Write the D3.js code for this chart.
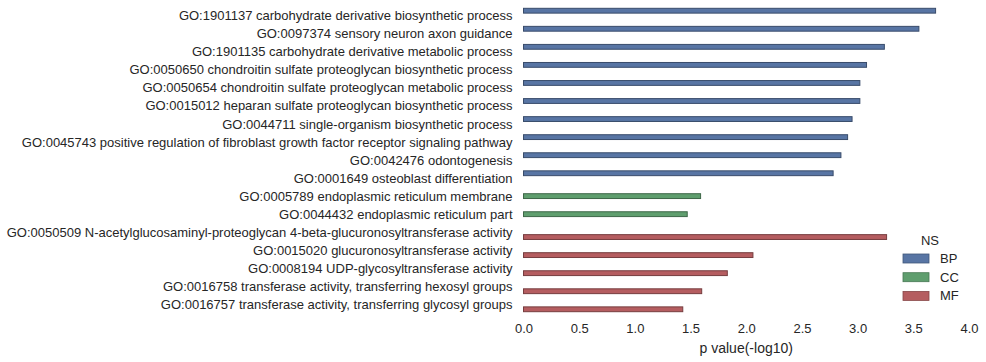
<!DOCTYPE html>
<html><head><meta charset="utf-8">
<script src="https://cdn.jsdelivr.net/npm/d3@7"></script>
<style>body{margin:0;background:#fff}svg{display:block}text{font-family:"Liberation Sans",Arial,sans-serif;fill:#262626}</style>
</head><body><svg id="c" width="986" height="362"></svg>
<script>
const categories = [
"GO:1901137 carbohydrate derivative biosynthetic process",
"GO:0097374 sensory neuron axon guidance",
"GO:1901135 carbohydrate derivative metabolic process",
"GO:0050650 chondroitin sulfate proteoglycan biosynthetic process",
"GO:0050654 chondroitin sulfate proteoglycan metabolic process",
"GO:0015012 heparan sulfate proteoglycan biosynthetic process",
"GO:0044711 single-organism biosynthetic process",
"GO:0045743 positive regulation of fibroblast growth factor receptor signaling pathway",
"GO:0042476 odontogenesis",
"GO:0001649 osteoblast differentiation",
"GO:0005789 endoplasmic reticulum membrane",
"GO:0044432 endoplasmic reticulum part",
"GO:0050509 N-acetylglucosaminyl-proteoglycan 4-beta-glucuronosyltransferase activity",
"GO:0015020 glucuronosyltransferase activity",
"GO:0008194 UDP-glycosyltransferase activity",
"GO:0016758 transferase activity, transferring hexosyl groups",
"GO:0016757 transferase activity, transferring glycosyl groups"];
const namespaces = ["BP","BP","BP","BP","BP","BP","BP","BP","BP","BP","CC","CC","MF","MF","MF","MF","MF"];
const values = [3.70,3.55,3.24,3.08,3.02,3.02,2.95,2.91,2.85,2.78,1.59,1.47,3.26,2.06,1.83,1.60,1.43];
const hues = ["BP","CC","MF"];
const hueColors = ["#5875A4","#5F9E6E","#B55D60"];
const xTicks = [0,0.5,1.0,1.5,2.0,2.5,3.0,3.5,4.0];

const svg = d3.select("#c");
const x = d3.scaleLinear().domain([0,4]).range([523.5,969]);
const y = d3.scaleBand().domain(categories).range([6.5,313.5]).paddingInner(0).paddingOuter(0);
const hueScale = d3.scaleBand().domain(hues).range([0.1*y.bandwidth(),0.9*y.bandwidth()]);
const color = d3.scaleOrdinal().domain(hues).range(hueColors);

svg.append("g").selectAll("rect").data(categories).join("rect")
  .attr("x", x(0))
  .attr("y", (d,i)=> y(d)+hueScale(namespaces[i]))
  .attr("width", (d,i)=> x(values[i])-x(0))
  .attr("height", hueScale.bandwidth())
  .attr("fill", (d,i)=> color(namespaces[i]))
  .attr("stroke", (d,i)=> d3.color(color(namespaces[i])).darker(1.2))
  .attr("stroke-width", 1);

const yAxis = d3.axisLeft(y).tickSize(0).tickPadding(11);
const gy = svg.append("g").attr("transform",`translate(${x(0)},0.5)`).call(yAxis);
gy.select(".domain").remove();
gy.selectAll("text").style("font-size","13px").attr("fill","#262626");

const xAxis = d3.axisBottom(x).tickValues(xTicks).tickFormat(d3.format(".1f")).tickSize(0).tickPadding(9);
const gx = svg.append("g").attr("transform","translate(0,315)").call(xAxis);
gx.select(".domain").remove();
gx.selectAll("text").style("font-size","13px").attr("fill","#262626");

svg.append("text").attr("x",(x(0)+x(4))/2).attr("y",353).attr("text-anchor","middle")
  .style("font-size","14px").text("p value(-log10)");

const lg = svg.append("g");
lg.append("text").attr("x",930).attr("y",245).attr("text-anchor","middle").style("font-size","13px").text("NS");
hues.forEach((h,i)=>{
  const yy = 254 + i*18.7;
  lg.append("rect").attr("x",903).attr("y",yy).attr("width",26).attr("height",9)
    .attr("fill",hueColors[i]).attr("stroke",d3.color(hueColors[i]).darker(0.8)).attr("stroke-width",0.8);
  lg.append("text").attr("x",940).attr("y",yy+9).style("font-size","13px").text(h);
});
</script></body></html>
